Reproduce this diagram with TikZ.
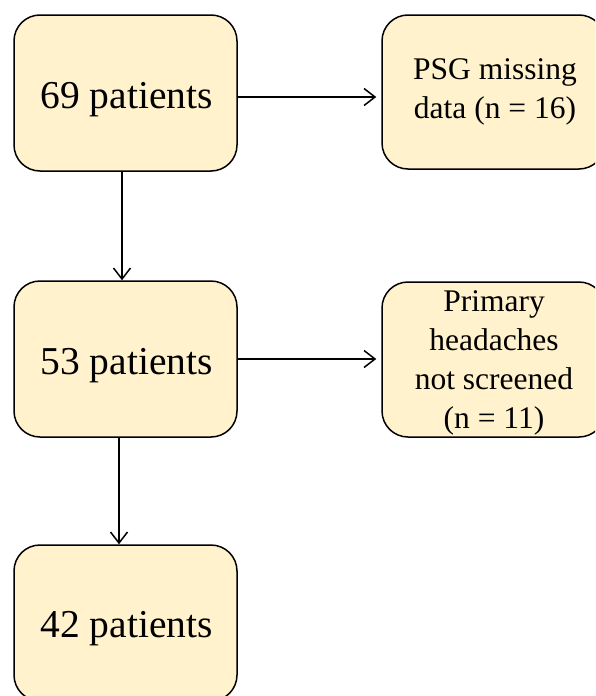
\documentclass[tikz,border=0pt]{standalone}
\usepackage{fontspec}
\setmainfont{Liberation Serif}
\usetikzlibrary{arrows.meta}
\definecolor{boxfill}{HTML}{FFF2CC}
\tikzset{
  flowbox/.style={draw=black, fill=boxfill, line width=1.5pt, rounded corners=26pt,
    minimum width=223pt, inner sep=0pt},
  bigtxt/.style={font=\fontsize{39.5}{44}\selectfont, inner sep=0pt, anchor=base},
  smalltxt/.style={font=\fontsize{31.5}{39}\selectfont, inner sep=0pt, anchor=base, align=center},
  flowarrow/.style={line width=1.5pt, -{Straight Barb[length=11pt,width=17pt,line width=1.5pt]}}
}
\begin{document}
\begin{tikzpicture}[x=1pt,y=-1pt]
\useasboundingbox (0,0) rectangle (595,696);
\clip (0,0) rectangle (595,696);
\node[flowbox, minimum height=156pt] (b1) at (125.5,93) {};
\node[flowbox, minimum height=156pt] (b2) at (125.5,359) {};
\node[flowbox, minimum height=156pt] (b3) at (125.5,623) {};
\node[flowbox, minimum height=154pt] (r1) at (493.5,92) {};
\node[flowbox, minimum height=155pt] (r2) at (493.5,359.5) {};
\node[bigtxt] (b1t) at (126.5,108) {69 patients};
\node[bigtxt] (b2t) at (126.5,374) {53 patients};
\node[bigtxt] (b3t) at (126.5,637) {42 patients};
\node[smalltxt] (r1t) at (495,118) {PSG missing\\data (n = 16)};
\node[smalltxt] (r2t) at (494,428) {Primary\\headaches\\not screened\\(n = 11)};
\draw[flowarrow, shorten >=5pt] ([yshift=-4pt]b1.east) -- ([yshift=-4pt]b1.east -| r1.west);
\draw[flowarrow, shorten >=5pt] (b2.east) -- (b2.east -| r2.west);
\draw[flowarrow] ([xshift=-3.5pt]b1.south) -- ([xshift=-3.5pt]b2.north);
\draw[flowarrow] ([xshift=-6.5pt]b2.south) -- ([xshift=-6.5pt]b3.north);
\end{tikzpicture}
\end{document}
